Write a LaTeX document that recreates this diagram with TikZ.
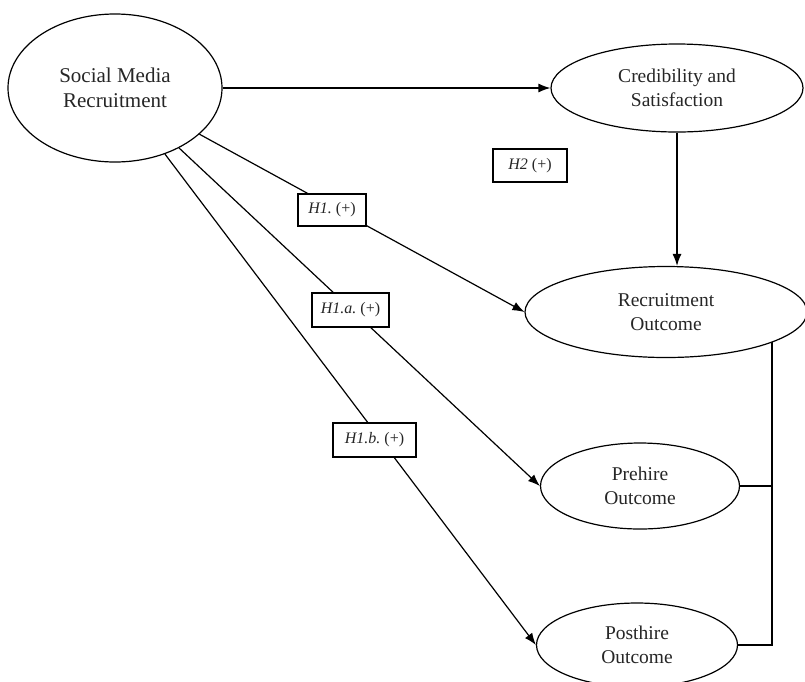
\documentclass[tikz,border=0pt]{standalone}
\usepackage{fontspec}
\setmainfont{Liberation Serif}
\usetikzlibrary{shapes.geometric,arrows.meta,backgrounds}
\frenchspacing
\begin{document}
\begin{tikzpicture}[x=1pt,y=-1pt,
  oval/.style={ellipse,draw,line width=1.2pt,fill=white,inner sep=0pt,align=center,text=black!85,font=\fontsize{19.5}{24}\selectfont},
  hbox/.style={rectangle,draw,line width=1.2pt,fill=white,inner sep=0pt,text=black!85,font=\fontsize{16}{18}\selectfont},
  conn/.style={line width=1.2pt},
  arr/.style={conn,-{Latex[length=12pt,width=9pt]}}]
\useasboundingbox (0,0) rectangle (805,681);
\node[oval,minimum width=214,minimum height=148,font=\fontsize{21}{25}\selectfont] (smr) at (115,88) {Social Media\\Recruitment};
\node[oval,minimum width=252,minimum height=88] (cred) at (677,88) {Credibility and\\Satisfaction};
\node[oval,minimum width=282,minimum height=91] (ro) at (666,312) {Recruitment\\Outcome};
\node[oval,minimum width=199,minimum height=86] (ph) at (640,486) {Prehire\\Outcome};
\node[oval,minimum width=201,minimum height=84] (po) at (637,645) {Posthire\\Outcome};
\node[hbox,minimum width=74,minimum height=33] (h2) at (530,165.5) {\textit{H2} (+)};
\node[hbox,minimum width=68,minimum height=32] (h1) at (332,210) {\textit{H1.} (+)};
\node[hbox,minimum width=77,minimum height=34] (h1a) at (350.5,310) {\textit{H1.a.} (+)};
\node[hbox,minimum width=83,minimum height=34] (h1b) at (374.5,440) {\textit{H1.b.} (+)};
\coordinate (bx) at (772,0);
\begin{pgfonlayer}{background}
\draw[arr] (smr) -- (cred);
\draw[arr] (cred.south) -- (cred.south |- ro.north);
\draw[arr] (smr) -- (ro.west);
\draw[arr] (smr) -- (ph.west);
\draw[arr] (smr) -- (po.west);
\draw[conn] (ro.center -| bx) -- (po.east -| bx) -- (po.east);
\draw[conn] (ph.east) -- (ph.east -| bx);
\end{pgfonlayer}
\end{tikzpicture}
\end{document}
